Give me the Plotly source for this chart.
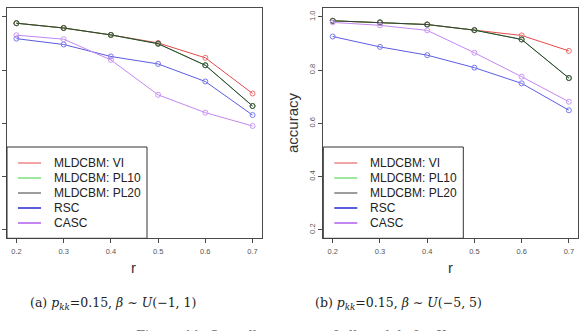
import plotly.graph_objects as go

# ---------------- data ----------------
r_values = [0.2, 0.3, 0.4, 0.5, 0.6, 0.7]
series_names = ["MLDCBM: VI", "MLDCBM: PL10", "MLDCBM: PL20", "RSC", "CASC"]

# panel (a): p_kk=0.15, beta ~ U(-1,1)
a_vi   = [0.976, 0.958, 0.932, 0.902, 0.846, 0.712]
a_pl10 = [0.976, 0.958, 0.932, 0.899, 0.818, 0.665]
a_pl20 = [0.976, 0.958, 0.932, 0.899, 0.818, 0.665]
a_rsc  = [0.918, 0.896, 0.851, 0.823, 0.757, 0.631]
a_casc = [0.931, 0.916, 0.838, 0.707, 0.640, 0.590]

# panel (b): p_kk=0.15, beta ~ U(-5,5)
b_vi   = [0.985, 0.979, 0.971, 0.950, 0.930, 0.872]
b_pl10 = [0.985, 0.979, 0.971, 0.950, 0.915, 0.770]
b_pl20 = [0.985, 0.979, 0.971, 0.950, 0.915, 0.770]
b_rsc  = [0.926, 0.887, 0.856, 0.809, 0.750, 0.649]
b_casc = [0.979, 0.968, 0.949, 0.865, 0.775, 0.681]

x_ticks = [0.2, 0.3, 0.4, 0.5, 0.6, 0.7]
y_ticks = [0.2, 0.4, 0.6, 0.8, 1.0]
x_range = [0.18, 0.72]
y_range = [0.168, 1.032]

captions = ["(a) <i>p</i><sub><i>kk</i></sub>=0.15, <i>β</i> ∼ <i>U</i>(−1, 1)",
            "(b) <i>p</i><sub><i>kk</i></sub>=0.15, <i>β</i> ∼ <i>U</i>(−5, 5)"]

# ---------------- style ----------------
line_colors = ["#E34A4A", "#3FCF3F", "#3A3A3A", "#5C5CE0", "#C487F2"]
marker_colors = ["#EE7070", "#3C8A3C", "#4A5A4A", "#7A7AEE", "#C99AF5"]
legend_widths = [1, 1, 1, 2, 2]
W, H = 582, 331
frame = "#4a4a4a"

fig = go.Figure()

panels = [
    ("x", "y", [a_vi, a_pl10, a_pl20, a_rsc, a_casc]),
    ("x2", "y2", [b_vi, b_pl10, b_pl20, b_rsc, b_casc]),
]
for xa, ya, data in panels:
    for name, vals, lc, mc in zip(series_names, data, line_colors, marker_colors):
        fig.add_trace(go.Scatter(
            x=r_values, y=vals, mode="lines+markers", name=name,
            xaxis=xa, yaxis=ya, showlegend=False,
            line=dict(color=lc, width=1),
            marker=dict(symbol="circle-open", size=5, color=mc, line=dict(width=1)),
        ))

# plot-area placement in pixels
left_px = [(7, 262), (323.3, 578.3)]
top_px, bot_px = 8.3, 238.3

axis_common = dict(
    showline=True, mirror=True, linecolor=frame, linewidth=1,
    ticks="outside", ticklen=4, tickcolor=frame, tickwidth=1,
    showgrid=False, zeroline=False, automargin=False,
    tickfont=dict(family="Liberation Sans", size=7.5, color="#555"),
)
for i, (l, r) in enumerate(left_px):
    sfx = "" if i == 0 else "2"
    fig.layout["xaxis" + sfx] = dict(
        domain=[l / W, r / W], range=x_range, tickvals=x_ticks,
        ticktext=[f"{v:.1f}" for v in x_ticks], anchor="y" + sfx,
        ticklabelstandoff=2, **axis_common)
    fig.layout["yaxis" + sfx] = dict(
        domain=[1 - bot_px / H, 1 - top_px / H], range=y_range,
        tickvals=y_ticks, ticktext=[f"{v:.1f}" for v in y_ticks],
        anchor="x" + sfx, tickangle=-90, showticklabels=(i == 1),
        **axis_common)

annotations = []
shapes = []
# axis titles
for cx in [133, 450]:
    annotations.append(dict(text="r", x=cx / W, y=1 - 267 / H, xref="paper", yref="paper",
                            xanchor="center", yanchor="middle", showarrow=False,
                            font=dict(family="Liberation Sans", size=15, color="#333")))
annotations.append(dict(text="accuracy", x=292 / W, y=1 - 123 / H, xref="paper", yref="paper",
                        xanchor="center", yanchor="middle", showarrow=False, textangle=-90,
                        font=dict(family="Liberation Sans", size=15, color="#333")))

# legends (R style box)
leg_top, leg_bot = 147, 238.3
for l, _ in left_px:
    shapes.append(dict(type="rect", xref="paper", yref="paper",
                       x0=l / W, x1=(l + 140) / W, y0=1 - leg_bot / H, y1=1 - leg_top / H,
                       line=dict(color="#333", width=1), fillcolor="white", layer="above"))
    for k, (name, lc, lw) in enumerate(zip(series_names, line_colors, legend_widths)):
        yy = 1 - (163 + 15 * k) / H
        shapes.append(dict(type="line", xref="paper", yref="paper",
                           x0=(l + 11) / W, x1=(l + 34) / W, y0=yy, y1=yy,
                           line=dict(color=lc, width=lw), layer="above"))
        annotations.append(dict(text=name, x=(l + 45) / W, y=yy, xref="paper", yref="paper",
                                xanchor="left", yanchor="middle", showarrow=False,
                                font=dict(family="Liberation Sans", size=12, color="#222")))

# captions
for cap, cx in zip(captions, [113, 398]):
    annotations.append(dict(text=cap, x=cx / W, y=1 - 303 / H, xref="paper", yref="paper",
                            xanchor="center", yanchor="middle", showarrow=False,
                            font=dict(family="DejaVu Serif", size=12.5, color="#222")))
# partially visible figure caption line (cut off at bottom)
annotations.append(dict(text="Figure 11: Overall accuracy of all models for <i>K</i>",
                        x=291 / W, y=1 - 325.5 / H, xref="paper", yref="paper",
                        xanchor="center", yanchor="top", showarrow=False,
                        font=dict(family="DejaVu Serif", size=13, color="#777")))

fig.update_layout(
    width=W, height=H, margin=dict(l=0, r=0, t=0, b=0),
    paper_bgcolor="white", plot_bgcolor="white",
    showlegend=False, annotations=annotations, shapes=shapes,
)

fig.write_html("out.html")
